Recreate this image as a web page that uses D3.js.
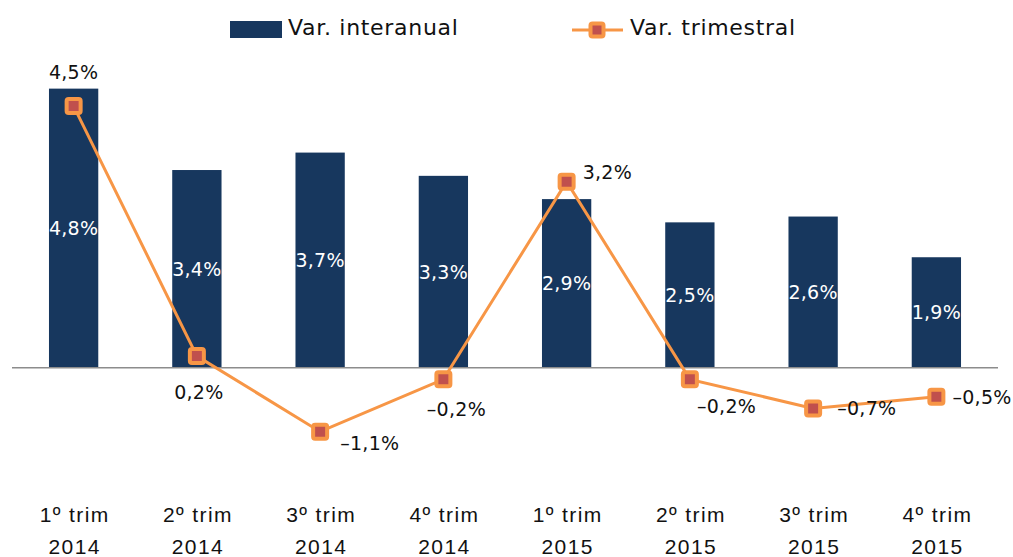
<!DOCTYPE html>
<html>
<head>
<meta charset="utf-8">
<script src="https://cdn.jsdelivr.net/npm/d3@7"></script>
<style>
  body { margin: 0; background: #fff; }
  svg { font-family: "DejaVu Sans", sans-serif; }
</style>
</head>
<body>
<svg id="chart" width="1013" height="557"></svg>
<script>
  // categories and series
  const quarters = ["1º trim", "2º trim", "3º trim", "4º trim", "1º trim", "2º trim", "3º trim", "4º trim"];
  const years = ["2014", "2014", "2014", "2014", "2015", "2015", "2015", "2015"];
  const interanual = [4.8, 3.4, 3.7, 3.3, 2.9, 2.5, 2.6, 1.9];
  const trimestral = [4.5, 0.2, -1.1, -0.2, 3.2, -0.2, -0.7, -0.5];
  const seriesNames = ["Var. interanual", "Var. trimestral"];
  // where each line label sits next to its point
  const lineLabelSide = ["above", "below", "belowRight", "below", "aboveRight", "belowRight", "right", "right"];

  const barColor = "#17375e";
  const lineColor = "#f79646";
  const markerFill = "#c0504d";

  const svg = d3.select("#chart");
  const cats = d3.range(quarters.length);

  const x = d3.scaleBand().domain(cats).range([12, 998]).paddingInner(0.6).paddingOuter(0.3);
  const y = d3.scaleLinear().domain([-2, 5]).range([484, 77]);
  const cx = i => x(i) + x.bandwidth() / 2;

  const fmt = v => (v < 0 ? "–" : "") + d3.format(".1f")(Math.abs(v)).replace(".", ",") + "%";

  // bars
  svg.append("g").selectAll("rect")
    .data(interanual)
    .join("rect")
    .attr("x", (d, i) => x(i))
    .attr("y", d => y(d))
    .attr("width", x.bandwidth())
    .attr("height", d => y(0) - y(d))
    .attr("fill", barColor);

  svg.append("g").selectAll("text")
    .data(interanual)
    .join("text")
    .attr("x", (d, i) => cx(i))
    .attr("y", d => (y(d) + y(0)) / 2 + 7)
    .attr("text-anchor", "middle")
    .attr("fill", "#fff")
    .attr("font-size", 19)
    .attr("letter-spacing", 0.3)
    .text(fmt);

  // zero line
  svg.append("line")
    .attr("x1", x.range()[0]).attr("x2", x.range()[1])
    .attr("y1", y(0)).attr("y2", y(0))
    .attr("stroke", "#8c8c8c")
    .attr("stroke-width", 1.5);

  // line series
  const line = d3.line().x((d, i) => cx(i)).y(d => y(d));
  svg.append("path")
    .datum(trimestral)
    .attr("d", line)
    .attr("fill", "none")
    .attr("stroke", lineColor)
    .attr("stroke-width", 3);

  const marker = (g, size) => g.append("rect")
    .attr("x", -size / 2).attr("y", -size / 2)
    .attr("width", size).attr("height", size)
    .attr("rx", 2)
    .attr("fill", markerFill)
    .attr("stroke", lineColor)
    .attr("stroke-width", 4);

  svg.append("g").selectAll("g")
    .data(trimestral)
    .join("g")
    .attr("transform", (d, i) => `translate(${cx(i)},${y(d)})`)
    .each(function () { marker(d3.select(this), 14); });

  const offsets = {
    above: [0, -34, "middle"],
    below: [2, 36, "middle"],
    belowRight: [12, 25, "start"],
    aboveRight: [16, -10, "start"],
    right: [18, 0, "start"]
  };
  svg.append("g").selectAll("text")
    .data(trimestral)
    .join("text")
    .each(function (d, i) {
      let [dx, dy, anchor] = offsets[lineLabelSide[i]];
      if (i === 2) { dx = 20; dy = 11; }
      if (i === 3) { dx = 13; dy = 30; anchor = "middle"; }
      if (i === 5) { dx = 7; dy = 27; }
      if (i === 6) { dx = 24; }
      if (i === 7) { dx = 16; }
      d3.select(this)
        .attr("x", cx(i) + dx)
        .attr("y", y(d) + dy + 7)
        .attr("text-anchor", anchor);
    })
    .attr("fill", "#111")
    .attr("font-size", 19)
    .attr("letter-spacing", 0.3)
    .text(fmt);

  // category axis, two lines per tick
  const xAxis = svg.append("g")
    .attr("transform", "translate(0,500)")
    .call(d3.axisBottom(x).tickSize(0).tickFormat(""));
  xAxis.select(".domain").remove();
  xAxis.selectAll(".tick text").remove();
  xAxis.selectAll(".tick").append("text")
    .attr("text-anchor", "middle")
    .attr("fill", "#111")
    .attr("font-size", 21)
    .attr("letter-spacing", 1.4)
    .each(function (i) {
      const t = d3.select(this);
      t.append("tspan").attr("x", 1).attr("y", 22).text(quarters[i]);
      t.append("tspan").attr("x", 1).attr("y", 54).text(years[i]);
    });

  // legend
  const legend = svg.append("g").attr("font-size", 22).attr("fill", "#111").attr("letter-spacing", 0.7);
  legend.append("rect").attr("x", 230).attr("y", 21).attr("width", 52).attr("height", 17).attr("fill", barColor);
  legend.append("text").attr("x", 288).attr("y", 35).text(seriesNames[0]);
  legend.append("line").attr("x1", 572).attr("x2", 623).attr("y1", 30).attr("y2", 30)
    .attr("stroke", lineColor).attr("stroke-width", 3);
  legend.append("g").attr("transform", "translate(597,30)").call(g => marker(g, 13));
  legend.append("text").attr("x", 630).attr("y", 35).text(seriesNames[1]);
</script>
</body>
</html>
